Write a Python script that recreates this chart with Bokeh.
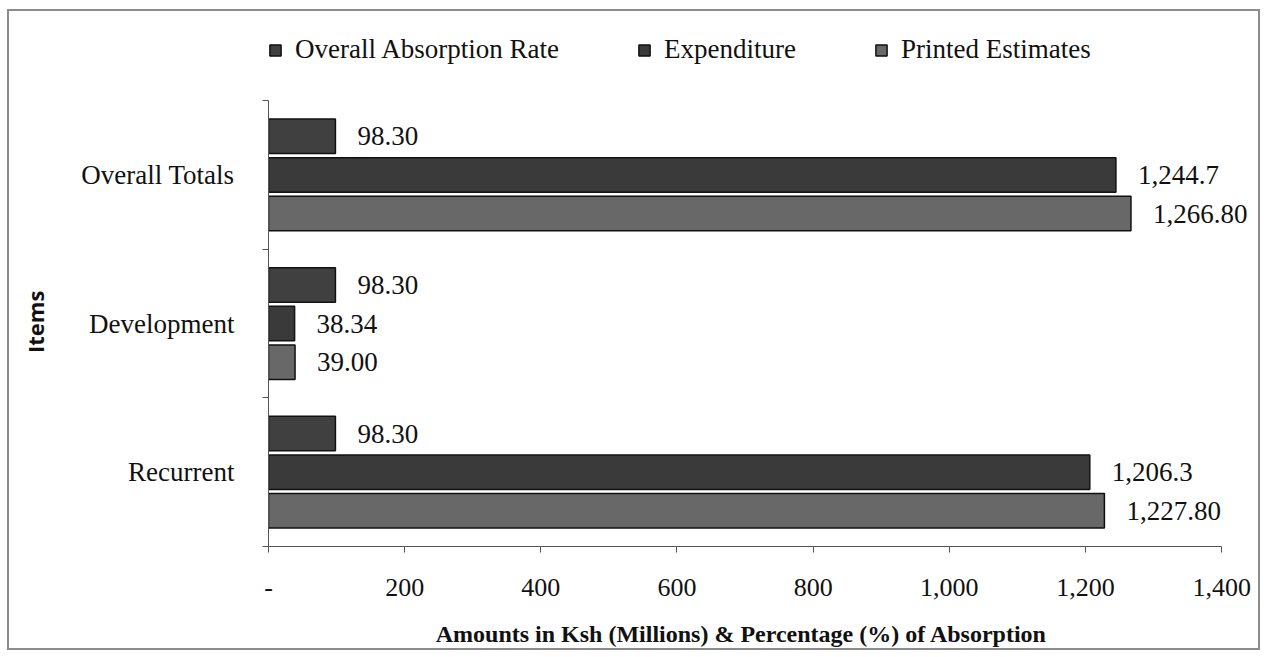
from bokeh.plotting import figure
from bokeh.models import (ColumnDataSource, LabelSet, Legend, LegendItem,
                          FixedTicker, Range1d)
from bokeh.transform import dodge
from bokeh.embed import file_html
from bokeh.resources import INLINE

# ---- data ----
items = ["Recurrent", "Development", "Overall Totals"]
absorption = [98.30, 98.30, 98.30]
expenditure = [1206.3, 38.34, 1244.7]
printed = [1227.80, 39.00, 1266.80]
absorption_lbl = ["98.30", "98.30", "98.30"]
expenditure_lbl = ["1,206.3", "38.34", "1,244.7"]
printed_lbl = ["1,227.80", "39.00", "1,266.80"]
x_ticks = [0, 200, 400, 600, 800, 1000, 1200, 1400]
x_tick_labels = ["-", "200", "400", "600", "800", "1,000", "1,200", "1,400"]

ypos = [i + 0.5 for i in range(len(items))]
src = ColumnDataSource(dict(y=ypos, absorption=absorption, expenditure=expenditure,
                            printed=printed, a_lbl=absorption_lbl,
                            e_lbl=expenditure_lbl, p_lbl=printed_lbl))

SERIF = "Liberation Serif"
NB = "\u00a0"
W, H = 1253, 641
p = figure(width=W, height=H, output_backend="svg", toolbar_location=None,
           x_range=Range1d(0, 1460), y_range=Range1d(0, 3.6),
           min_border_left=259, min_border_right=0,
           min_border_top=0, min_border_bottom=106)
p.styles = {"margin-left": "7px", "margin-top": "9px",
            "border": "2px solid #8c8c8c"}
p.outline_line_color = None
p.grid.grid_line_color = None
p.background_fill_color = "white"
p.border_fill_color = "white"

bh = 0.232
off = 0.26
r_abs = p.hbar(y=dodge("y", off, range=p.y_range), right="absorption", left=0,
               height=bh, source=src, fill_color="#404040", line_color="#111111",
               line_width=1.5)
r_exp = p.hbar(y=dodge("y", 0, range=p.y_range), right="expenditure", left=0,
               height=bh, source=src, fill_color="#3a3a3a", line_color="#111111",
               line_width=1.5)
r_pri = p.hbar(y=dodge("y", -off, range=p.y_range), right="printed", left=0,
               height=bh, source=src, fill_color="#686868", line_color="#111111",
               line_width=1.5)

for col, lbl, o in [("absorption", "a_lbl", off), ("expenditure", "e_lbl", 0),
                    ("printed", "p_lbl", -off)]:
    ls = LabelSet(x=col, y=dodge("y", o, range=p.y_range), text=lbl, source=src,
                  x_offset=22, text_baseline="middle", text_align="left",
                  text_font=SERIF, text_font_size="27px", text_color="#111111")
    p.add_layout(ls)

# x axis
p.xaxis.bounds = (0, 1400)
p.xaxis.ticker = FixedTicker(ticks=x_ticks)
p.xaxis.major_label_overrides = {t: l for t, l in zip(x_ticks, x_tick_labels)}
p.xaxis.major_label_text_font = SERIF
p.xaxis.major_label_text_font_size = "26px"
p.xaxis.major_label_text_color = "#111111"
p.xaxis.major_label_standoff = 26
p.xaxis.major_tick_in = 0
p.xaxis.major_tick_out = 6
p.xaxis.minor_tick_line_color = None
p.xaxis.axis_line_color = "#555555"
p.xaxis.major_tick_line_color = "#555555"
p.xaxis.axis_label = "Amounts in Ksh (Millions) & Percentage (%) of Absorption" + NB * 8
p.xaxis.axis_label_text_font = SERIF
p.xaxis.axis_label_text_font_style = "bold"
p.xaxis.axis_label_text_font_size = "24px"
p.xaxis.axis_label_text_color = "#111111"
p.xaxis.axis_label_standoff = 22

# y axis
p.yaxis.bounds = (0, 3)
p.yaxis.ticker = FixedTicker(ticks=ypos, minor_ticks=[0, 1, 2, 3])
p.yaxis.major_label_overrides = {y: n for y, n in zip(ypos, items)}
p.yaxis.major_label_text_font = SERIF
p.yaxis.major_label_text_font_size = "27px"
p.yaxis.major_label_text_color = "#111111"
p.yaxis.major_label_standoff = 28
p.yaxis.major_tick_in = 0
p.yaxis.major_tick_out = 0
p.yaxis.minor_tick_in = 0
p.yaxis.minor_tick_out = 6
p.yaxis.minor_tick_line_color = "#555555"
p.yaxis.axis_line_color = "#555555"
p.yaxis.axis_label = "Items" + NB * 15
p.yaxis.axis_label_text_font = "Open Sans"
p.yaxis.axis_label_text_font_style = "bold"
p.yaxis.axis_label_text_font_size = "22px"
p.yaxis.axis_label_text_color = "#111111"
p.yaxis.axis_label_standoff = 28

legend = Legend(items=[LegendItem(label="Overall Absorption Rate", renderers=[r_abs]),
                       LegendItem(label="Expenditure", renderers=[r_exp]),
                       LegendItem(label="Printed Estimates", renderers=[r_pri])],
                orientation="horizontal", location=(0, 481),
                label_text_font=SERIF, label_text_font_size="27px",
                label_text_color="#111111", glyph_width=14, glyph_height=14,
                label_standoff=13, spacing=78, border_line_color=None,
                background_fill_alpha=0, padding=0, margin=0)
p.add_layout(legend)

open("out.html", "w").write(file_html(p, INLINE))
